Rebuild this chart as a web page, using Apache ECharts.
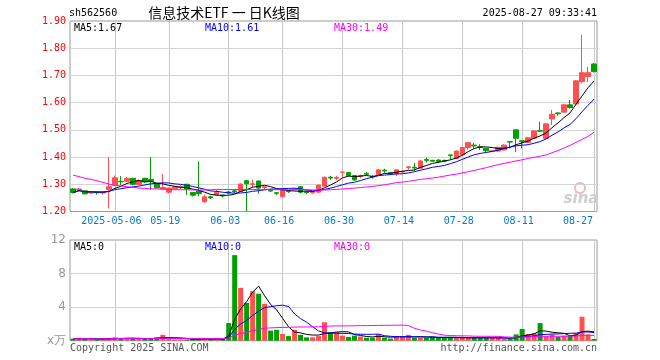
<!DOCTYPE html>
<html><head><meta charset="utf-8">
<script src="https://cdn.jsdelivr.net/npm/echarts@6/dist/echarts.min.js"></script>
<style>html,body{margin:0;padding:0;background:#fff}#c{width:660px;height:360px}</style>
</head><body><div id="c"></div>
<script>
const dates = [
'2025-04-22','2025-04-23','2025-04-24','2025-04-25','2025-04-28','2025-04-29','2025-04-30',
'2025-05-06','2025-05-07','2025-05-08','2025-05-09','2025-05-12','2025-05-13','2025-05-14','2025-05-15','2025-05-16',
'2025-05-19','2025-05-20','2025-05-21','2025-05-22','2025-05-23','2025-05-26','2025-05-27','2025-05-28','2025-05-29','2025-05-30',
'2025-06-03','2025-06-04','2025-06-05','2025-06-06','2025-06-09','2025-06-10','2025-06-11','2025-06-12','2025-06-13',
'2025-06-16','2025-06-17','2025-06-18','2025-06-19','2025-06-20','2025-06-23','2025-06-24','2025-06-25','2025-06-26','2025-06-27',
'2025-06-30','2025-07-01','2025-07-02','2025-07-03','2025-07-04','2025-07-07','2025-07-08','2025-07-09','2025-07-10','2025-07-11',
'2025-07-14','2025-07-15','2025-07-16','2025-07-17','2025-07-18','2025-07-21','2025-07-22','2025-07-23','2025-07-24','2025-07-25',
'2025-07-28','2025-07-29','2025-07-30','2025-07-31','2025-08-01','2025-08-04','2025-08-05','2025-08-06','2025-08-07','2025-08-08',
'2025-08-11','2025-08-12','2025-08-13','2025-08-14','2025-08-15','2025-08-18','2025-08-19','2025-08-20','2025-08-21','2025-08-22',
'2025-08-25','2025-08-26','2025-08-27'];

const openP = [1.283,1.279,1.276,1.268,1.271,1.268,1.281,1.297,1.311,1.311,1.322,1.299,1.322,1.318,1.301,1.283,1.271,1.284,1.289,1.300,1.270,1.275,1.236,1.254,1.261,1.260,1.272,1.276,1.274,1.313,1.299,1.312,1.288,1.277,1.269,1.254,1.275,1.280,1.291,1.272,1.269,1.271,1.293,1.326,1.322,1.344,1.343,1.332,1.329,1.340,1.329,1.336,1.352,1.342,1.338,1.345,1.361,1.363,1.359,1.391,1.388,1.389,1.388,1.408,1.395,1.408,1.435,1.444,1.438,1.432,1.420,1.422,1.426,1.457,1.500,1.460,1.454,1.469,1.497,1.469,1.540,1.562,1.565,1.592,1.595,1.677,1.696,1.742];
const closeP = [1.270,1.283,1.265,1.271,1.269,1.270,1.291,1.324,1.309,1.321,1.300,1.314,1.308,1.311,1.287,1.288,1.286,1.291,1.291,1.283,1.260,1.266,1.254,1.250,1.270,1.257,1.268,1.273,1.301,1.302,1.302,1.286,1.291,1.275,1.267,1.279,1.273,1.282,1.271,1.270,1.271,1.297,1.326,1.323,1.325,1.345,1.332,1.316,1.332,1.337,1.327,1.353,1.349,1.339,1.353,1.347,1.364,1.360,1.386,1.388,1.385,1.384,1.385,1.406,1.422,1.435,1.453,1.441,1.435,1.423,1.423,1.436,1.444,1.455,1.469,1.457,1.471,1.496,1.495,1.522,1.557,1.559,1.592,1.582,1.680,1.710,1.710,1.714];
const lowP = [1.266,1.276,1.262,1.265,1.262,1.262,1.211,1.295,1.297,1.309,1.296,1.297,1.305,1.279,1.285,1.281,1.266,1.282,1.282,1.261,1.255,1.256,1.232,1.246,1.259,1.252,1.263,1.268,1.272,1.201,1.287,1.265,1.280,1.271,1.261,1.252,1.268,1.277,1.266,1.264,1.266,1.270,1.292,1.316,1.315,1.327,1.328,1.313,1.322,1.330,1.321,1.334,1.342,1.334,1.330,1.340,1.353,1.349,1.357,1.380,1.382,1.378,1.381,1.390,1.393,1.406,1.428,1.432,1.426,1.417,1.419,1.420,1.424,1.432,1.418,1.432,1.452,1.467,1.493,1.466,1.518,1.552,1.563,1.578,1.593,1.671,1.675,1.711];
const highP = [1.286,1.286,1.278,1.275,1.273,1.273,1.400,1.332,1.330,1.327,1.323,1.318,1.324,1.400,1.303,1.338,1.288,1.293,1.296,1.302,1.271,1.384,1.262,1.258,1.279,1.262,1.276,1.280,1.303,1.316,1.317,1.314,1.293,1.281,1.272,1.281,1.278,1.286,1.293,1.274,1.275,1.298,1.328,1.331,1.331,1.346,1.346,1.333,1.335,1.345,1.333,1.355,1.357,1.344,1.355,1.350,1.367,1.378,1.388,1.398,1.390,1.392,1.390,1.408,1.424,1.437,1.455,1.452,1.447,1.433,1.425,1.438,1.447,1.458,1.500,1.461,1.474,1.498,1.530,1.524,1.573,1.566,1.596,1.610,1.682,1.849,1.732,1.745];
const volume = [0.25,0.2,0.3,0.15,0.15,0.2,0.3,0.4,0.3,0.3,0.25,0.2,0.2,0.3,0.4,0.7,0.2,0.15,0.15,0.15,0.2,0.25,0.2,0.15,0.15,0.2,2.1,10.2,6.3,4.5,5.9,5.6,4.4,1.2,1.3,0.8,0.55,1.3,0.7,0.4,0.4,0.55,2.2,1.0,1.0,0.6,0.45,0.6,0.5,0.35,0.35,0.8,0.35,0.25,0.55,0.45,0.7,0.35,0.35,0.35,0.45,0.35,0.35,0.35,0.35,0.35,0.35,0.35,0.35,0.35,0.35,0.35,0.2,0.2,0.75,1.4,0.8,0.9,2.1,0.5,0.75,0.45,0.6,0.6,0.9,2.85,0.75,0.2];
const ma30Price = [1.334,1.328,1.322,1.318,1.313,1.307,1.301,1.296,1.294,1.291,1.289,1.286,1.285,1.283,1.283,1.282,1.281,1.280,1.280,1.280,1.279,1.279,1.279,1.280,1.281,1.281,1.281,1.281,1.281,1.281,1.281,1.280,1.280,1.280,1.280,1.280,1.280,1.280,1.280,1.280,1.279,1.279,1.279,1.280,1.281,1.283,1.284,1.286,1.288,1.290,1.292,1.295,1.298,1.302,1.306,1.308,1.311,1.314,1.318,1.320,1.323,1.326,1.330,1.334,1.337,1.342,1.346,1.351,1.356,1.361,1.367,1.372,1.377,1.381,1.386,1.390,1.395,1.399,1.403,1.408,1.416,1.424,1.433,1.443,1.454,1.465,1.476,1.491];

const tickDates = ['2025-05-06','2025-05-19','2025-06-03','2025-06-16','2025-06-30','2025-07-14','2025-07-28','2025-08-11','2025-08-27'];
const tickLabels = ['2025-05-06','05-19','06-03','06-16','06-30','07-14','07-28','08-11','08-27'];
const priceLevels = [1.3, 1.4, 1.5, 1.6, 1.7, 1.8];
const volLevels = [4, 8];
const priceMaLegend = ['1.67','1.61','1.49'];
const volMaLegend = ['0','0','0'];
const maNames = ['MA5','MA10','MA30'];

function movingAvg(arr, n) {
  return arr.map((_, i) => {
    const s = Math.max(0, i - n + 1);
    let sum = 0;
    for (let k = s; k <= i; k++) sum += arr[k];
    return +(sum / (i - s + 1)).toFixed(4);
  });
}

const UP = '#ff5050', DOWN = '#00a000';
const maColors = ['#000000', '#0000ff', '#ff00ff'];
const MONO = '"DejaVu Sans Mono", monospace';
const tickSet = new Set(tickDates);
const lastDate = tickDates[tickDates.length - 1];

const chart = echarts.init(document.getElementById('c'), null, {renderer: 'canvas'});

const candleData = dates.map((d, i) => [openP[i], closeP[i], lowP[i], highP[i]]);
const volData = volume.map((v, i) => ({value: v, itemStyle: {color: closeP[i] >= openP[i] ? UP : DOWN}}));

function lineSeries(data, color, xi, yi) {
  return {type: 'line', data, xAxisIndex: xi, yAxisIndex: yi, showSymbol: false, symbol: 'none',
    lineStyle: {color, width: 1}, itemStyle: {color}, smooth: false, silent: true, z: 3};
}

function gridMarkLine(levels) {
  const v = tickDates.map(d => ({xAxis: d, lineStyle: {type: 'solid', color: '#c8c8c8', width: 1}}));
  const h = levels.map(y => ({yAxis: y, lineStyle: {type: 'solid', color: '#d4d4d4', width: 1}}));
  return {silent: true, symbol: ['none', 'none'], label: {show: false}, animation: false, z: 1,
    emphasis: {disabled: true}, data: v.concat(h)};
}

const graphic = [
  {type: 'text', x: 69, y: 13, style: {text: 'sh562560', font: '10px ' + MONO, fill: '#000', verticalAlign: 'middle', textVerticalAlign: 'middle'}},
  {type: 'text', x: 224, y: 13, style: {text: '信息技术ETF 一 日K线图', font: '14px "Noto Sans CJK SC"', fill: '#000', align: 'center', textAlign: 'center', verticalAlign: 'middle', textVerticalAlign: 'middle'}},
  {type: 'text', x: 597, y: 13, style: {text: '2025-08-27 09:33:41', font: '10px ' + MONO, fill: '#000', align: 'right', textAlign: 'right', verticalAlign: 'middle', textVerticalAlign: 'middle'}},
  {type: 'text', x: 70, y: 348, style: {text: 'Copyright 2025 SINA.COM', font: '10px ' + MONO, fill: '#555', verticalAlign: 'middle', textVerticalAlign: 'middle'}},
  {type: 'text', x: 597, y: 348, style: {text: 'http://finance.sina.com.cn', font: '10px ' + MONO, fill: '#555', align: 'right', textAlign: 'right', verticalAlign: 'middle', textVerticalAlign: 'middle'}},
  {type: 'circle', shape: {cx: 580, cy: 188, r: 5}, style: {fill: 'none', stroke: '#f2b8b8', lineWidth: 2}, z: 1},
  {type: 'text', x: 581, y: 199, style: {text: 'sina', font: 'italic bold 15px "DejaVu Sans"', fill: '#cfcfcf', align: 'center', textAlign: 'center', verticalAlign: 'middle', textVerticalAlign: 'middle'}, z: 1}
];
const legX = [74, 205, 334];
maNames.forEach((n, k) => {
  graphic.push({type: 'text', x: legX[k], y: 28, style: {text: n + ':' + priceMaLegend[k], font: '10px ' + MONO, fill: maColors[k], verticalAlign: 'middle', textVerticalAlign: 'middle'}, z: 10});
  graphic.push({type: 'text', x: legX[k], y: 247, style: {text: n + ':' + volMaLegend[k], font: '10px ' + MONO, fill: maColors[k], verticalAlign: 'middle', textVerticalAlign: 'middle'}, z: 10});
});

const option = {
  animation: false,
  backgroundColor: '#fff',
  grid: [
    {left: 70, right: 63, top: 21, height: 190.5, show: true, borderColor: '#999', borderWidth: 1, backgroundColor: 'transparent'},
    {left: 70, right: 63, top: 240, height: 100.7, show: true, borderColor: '#999', borderWidth: 1, backgroundColor: 'transparent'}
  ],
  xAxis: [
    {type: 'category', gridIndex: 0, data: dates, boundaryGap: true,
      axisLine: {show: false}, axisTick: {show: false},
      axisLabel: {interval: (i, v) => tickSet.has(v), margin: 5, color: '#0a78c8', fontFamily: MONO, fontSize: 10,
        formatter: (v) => {
          const lab = tickLabels[tickDates.indexOf(v)];
          return v === lastDate ? '{e|' + lab + '}' : '{n|' + lab + '}';
        },
        rich: {
          n: {padding: [0, 7, 0, 0], color: '#0a78c8', fontFamily: MONO, fontSize: 10},
          e: {padding: [0, 32, 0, 0], color: '#0a78c8', fontFamily: MONO, fontSize: 10}
        }},
      splitLine: {show: false}},
    {type: 'category', gridIndex: 1, data: dates, boundaryGap: true,
      axisLine: {show: false}, axisTick: {show: false}, axisLabel: {show: false}, splitLine: {show: false}}
  ],
  yAxis: [
    {type: 'value', gridIndex: 0, min: 1.2, max: 1.9, interval: 0.1,
      axisLine: {show: false}, axisTick: {show: false},
      axisLabel: {color: '#ff0000', fontFamily: MONO, fontSize: 10, margin: 4, formatter: (v) => v.toFixed(2)},
      splitLine: {show: false}},
    {type: 'value', gridIndex: 1, min: 0, max: 12, interval: 4,
      axisLine: {show: false}, axisTick: {show: false},
      axisLabel: {color: '#999', fontFamily: '"DejaVu Sans", sans-serif', fontSize: 12, margin: 4, formatter: (v) => v === 0 ? 'x万' : String(v)},
      splitLine: {show: false}}
  ],
  series: [
    {type: 'candlestick', xAxisIndex: 0, yAxisIndex: 0, data: candleData, barWidth: 5, silent: true, z: 2,
      itemStyle: {color: UP, color0: DOWN, borderColor: UP, borderColor0: DOWN, borderWidth: 1},
      markLine: gridMarkLine(priceLevels)},
    lineSeries(movingAvg(closeP, 5), maColors[0], 0, 0),
    lineSeries(movingAvg(closeP, 10), maColors[1], 0, 0),
    lineSeries(ma30Price, maColors[2], 0, 0),
    {type: 'bar', xAxisIndex: 1, yAxisIndex: 1, data: volData, barWidth: 5, silent: true, z: 2,
      markLine: gridMarkLine(volLevels)},
    lineSeries(movingAvg(volume, 5), maColors[0], 1, 1),
    lineSeries(movingAvg(volume, 10), maColors[1], 1, 1),
    lineSeries(movingAvg(volume, 30), maColors[2], 1, 1)
  ],
  graphic
};
chart.setOption(option);
</script>
</body></html>
